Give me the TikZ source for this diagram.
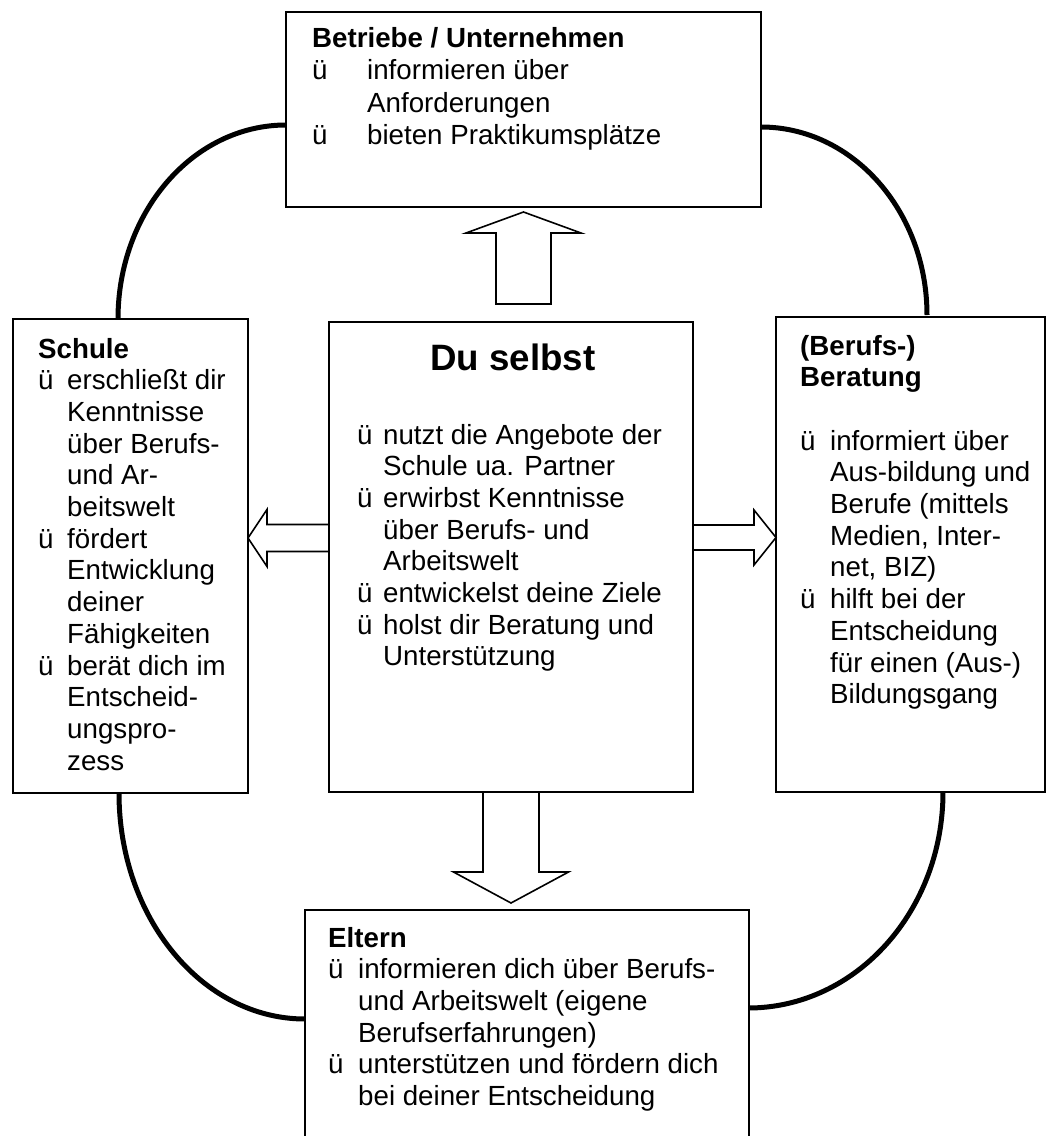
\documentclass[tikz,border=0pt]{standalone}
\usepackage{fontspec}
\setmainfont{Liberation Sans}
\usetikzlibrary{calc}
\pgfdeclarelayer{bg}
\pgfsetlayers{bg,main}
\newlength\bulw
\newcommand\titl[1]{\hbox{\bfseries #1}}
\newcommand\itm[1]{\hbox{\makebox[\bulw][l]{ü}#1}}
\newcommand\cnt[1]{\hbox{\hspace*{\bulw}#1}}
% vertical block arrow: start, end, shaft half width, head half width, head length
\newcommand\varrow[5]{%
  \draw[blockarrow] let \p1=(#1), \p2=(#2), \n1={sign(\y2-\y1)} in
    ({\x1-#3pt},\y1) -- ({\x1-#3pt},{\y2-\n1*#5pt}) -- ({\x1-#4pt},{\y2-\n1*#5pt})
    -- (\x1,\y2) -- ({\x1+#4pt},{\y2-\n1*#5pt}) -- ({\x1+#3pt},{\y2-\n1*#5pt})
    -- ({\x1+#3pt},\y1) -- cycle;}
% horizontal block arrow
\newcommand\harrow[5]{%
  \draw[blockarrow] let \p1=(#1), \p2=(#2), \n1={sign(\x2-\x1)} in
    (\x1,{\y1-#3pt}) -- ({\x2-\n1*#5pt},{\y1-#3pt}) -- ({\x2-\n1*#5pt},{\y1-#4pt})
    -- (\x2,\y1) -- ({\x2-\n1*#5pt},{\y1+#4pt}) -- ({\x2-\n1*#5pt},{\y1+#3pt})
    -- (\x1,{\y1+#3pt}) -- cycle;}
\begin{document}
\begin{tikzpicture}[x=1pt,y=-1pt,
  box/.style={draw, line width=1.6pt, anchor=north west, inner sep=0pt, outer sep=0pt, fill=white},
  txt/.style={anchor=base west, inner sep=0pt, font=\fontsize{27.7pt}{31.7pt}\selectfont},
  ring/.style={line width=5pt},
  blockarrow/.style={draw, line width=1.6pt, fill=white, line join=miter}]
\useasboundingbox (0,0) rectangle (1047,1136);

% boxes
\node[box, minimum width=475pt, minimum height=195pt] (betr) at (286,12) {};
\node[box, minimum width=235pt, minimum height=474pt] (schule) at (13,319) {};
\node[box, minimum width=364pt, minimum height=470pt] (du) at (329,322) {};
\node[box, minimum width=269pt, minimum height=475pt] (berat) at (776,317) {};
\node[box, minimum width=444pt, minimum height=250pt] (eltern) at (305,910) {};

% ring arcs
\begin{pgfonlayer}{bg}
\draw[ring] ($(betr.west)+(0,15.5)$) arc[start angle=90, end angle=180, x radius=168pt, y radius=194pt];
\draw[ring] ($(betr.east)+(0,17.5)$) arc[start angle=90, end angle=0, x radius=166pt, y radius=188pt];
\draw[ring] ($(schule.south)+(-11.5,0)$) arc[start angle=180, end angle=270, x radius=186pt, y radius=226pt];
\draw[ring] ($(berat.south)+(32.5,0)$) arc[start angle=0, end angle=-90, x radius=195pt, y radius=216pt];
\end{pgfonlayer}

% texts
\node[txt] (betrT) at (312,47) {\setlength\bulw{55pt}\vtop{\baselineskip=32.5pt
  \titl{Betriebe / Unternehmen}\itm{informieren über}\cnt{Anforderungen}\itm{bieten Praktikumsplätze}}};

\node[txt] (schuleT) at (38,358) {\setlength\bulw{29pt}\vtop{
  \titl{Schule}
  \itm{erschließt dir}\cnt{Kenntnisse}\cnt{über Berufs-}\cnt{und Ar-}\cnt{beitswelt}
  \itm{fördert}\cnt{Entwicklung}\cnt{deiner}\cnt{Fähigkeiten}
  \itm{berät dich im}\cnt{Entscheid-}\cnt{ungspro-}\cnt{zess}}};

\node[anchor=base, inner sep=0pt, font=\fontsize{36.7pt}{40pt}\selectfont\bfseries] (duT) at (513,370) {Du selbst};
\node[txt] (duI) at (357,444) {\setlength\bulw{26pt}\vtop{
  \itm{nutzt die Angebote der}\cnt{Schule ua. Partner}
  \itm{erwirbst Kenntnisse}\cnt{über Berufs- und}\cnt{Arbeitswelt}
  \itm{entwickelst deine Ziele}
  \itm{holst dir Beratung und}\cnt{Unterstützung}}};

\node[txt] (beratT) at (800,355) {\setlength\bulw{30pt}\vtop{
  \titl{(Berufs-)}\titl{Beratung}\hbox{}
  \itm{informiert über}\cnt{Aus-bildung und}\cnt{Berufe (mittels}\cnt{Medien, Inter-}\cnt{net, BIZ)}
  \itm{hilft bei der}\cnt{Entscheidung}\cnt{für einen (Aus-)}\cnt{Bildungsgang}}};

\node[txt] (elternT) at (328,947) {\setlength\bulw{30pt}\vtop{
  \titl{Eltern}
  \itm{informieren dich über Berufs-}\cnt{und Arbeitswelt (eigene}\cnt{Berufserfahrungen)}
  \itm{unterstützen und fördern dich}\cnt{bei deiner Entscheidung}}};

% block arrows
\varrow{$(betr.south |- du.north)+(0,-18)$}{$(betr.south)+(0,5)$}{27.5}{57.5}{21}
\harrow{$(du.west)+(0,-19)$}{$(schule.east)+(0,-18)$}{13.5}{28.5}{19}
\harrow{$(du.east)+(0,-19.5)$}{$(berat.west)+(0,-17)$}{12.5}{27.5}{22}
\varrow{du.south}{$(du.south |- eltern.north)+(0,-7)$}{28}{57.5}{31}
\end{tikzpicture}
\end{document}
